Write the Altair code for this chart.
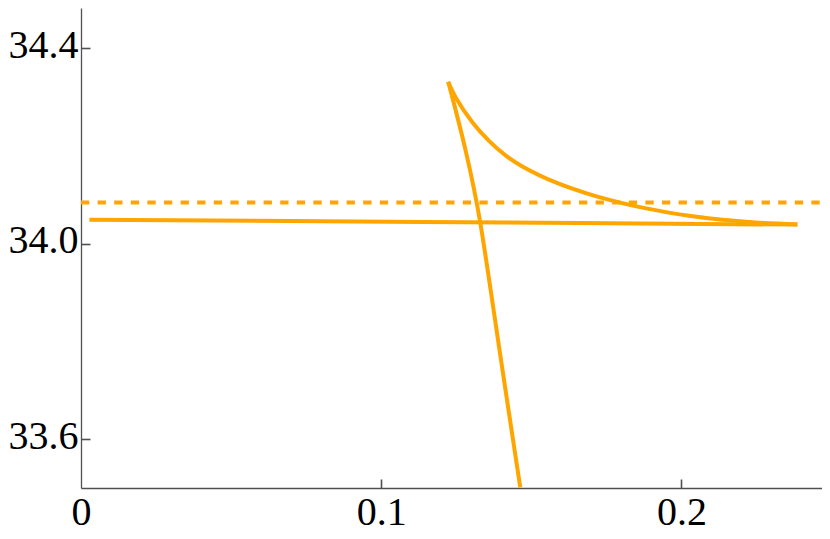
import altair as alt
import pandas as pd

# near-horizontal branch
horiz_x = [0.0028, 0.1137, 0.2386]
horiz_y = [34.0491, 34.0443, 34.0389]
# upper curved branch (from right cusp back to top cusp)
upper_x = [0.2386, 0.2247, 0.2136, 0.2025, 0.1914, 0.1803, 0.1692, 0.1581,
           0.1470, 0.1415, 0.1359, 0.1304, 0.1248, 0.1223]
upper_y = [34.0389, 34.0434, 34.0487, 34.0569, 34.0685, 34.0829, 34.1013, 34.1252,
           34.1580, 34.1800, 34.2103, 34.2480, 34.2991, 34.3310]
# steep branch (from top cusp down)
steep_x = [0.1223, 0.1247, 0.1280, 0.1309, 0.1329, 0.1359, 0.1392, 0.1425, 0.1463]
steep_y = [34.3310, 34.2752, 34.1933, 34.1115, 34.0460, 33.9274, 33.7903, 33.6552, 33.5012]

dash_level = [34.084]
x_domain = [0.0, 0.2468]
y_domain = [33.5, 34.4821]
x_ticks = [0.0, 0.1, 0.2]
y_ticks = [33.6, 34.0, 34.4]

ORANGE = "#FFA500"
AXIS = "#505050"
FONT = "Liberation Serif"

rows = []
for name, xs, ys in [("h", horiz_x, horiz_y), ("u", upper_x, upper_y), ("s", steep_x, steep_y)]:
    for i, (a, b) in enumerate(zip(xs, ys)):
        rows.append({"branch": name, "i": i, "x": a, "y": b})
curves = pd.DataFrame(rows)

dash_df = pd.DataFrame({"x0": [x_domain[0]], "x1": [x_domain[1]], "y": dash_level})

xscale = alt.Scale(domain=x_domain, nice=False, zero=False)
yscale = alt.Scale(domain=y_domain, nice=False, zero=False)

label_x_axis = alt.Axis(
    orient="bottom", values=x_ticks, ticks=False, grid=False,
    labelExpr="datum.value == 0 ? '0' : format(datum.value, '.1f')",
    labelFont=FONT, labelFontSize=40, labelColor="black", labelPadding=4,
    domainColor=AXIS, domainWidth=1.3, title=None, labelFlush=False, labelOverlap=False,
)
label_y_axis = alt.Axis(
    orient="left", values=y_ticks, ticks=False, grid=False, format=".1f",
    labelFont=FONT, labelFontSize=40, labelColor="black", labelPadding=3, labelOffset=-3,
    domainColor=AXIS, domainWidth=1.3, title=None, labelFlush=False, labelOverlap=False,
)
tick_x_axis = alt.Axis(
    orient="bottom", values=[0.1, 0.2], ticks=True, tickSize=9, tickColor=AXIS, tickWidth=1.6,
    offset=-9, labels=False, domain=False, grid=False, title=None,
)
tick_y_axis = alt.Axis(
    orient="left", values=y_ticks, ticks=True, tickSize=9, tickColor=AXIS, tickWidth=1.6,
    offset=-9, labels=False, domain=False, grid=False, title=None,
)

lines = alt.Chart(curves).mark_line(
    color=ORANGE, strokeWidth=4, interpolate="catmull-rom", clip=True
).encode(
    x=alt.X("x:Q", scale=xscale, axis=label_x_axis),
    y=alt.Y("y:Q", scale=yscale, axis=label_y_axis),
    detail="branch:N",
    order="i:Q",
)

dashed = alt.Chart(dash_df).mark_rule(
    color=ORANGE, strokeWidth=4, strokeDash=[8.3, 8.3]
).encode(
    x=alt.X("x0:Q", scale=xscale, axis=tick_x_axis),
    x2="x1:Q",
    y=alt.Y("y:Q", scale=yscale, axis=tick_y_axis),
)

chart = alt.layer(lines, dashed).resolve_axis(x="independent", y="independent").properties(
    width=741, height=480,
    autosize=alt.AutoSizeParams(type="none"),
    padding={"left": 73, "top": 0, "right": 0, "bottom": 50},
).configure_view(stroke=None)

chart.save("out.html", embed_options={"renderer": "svg", "actions": False})
